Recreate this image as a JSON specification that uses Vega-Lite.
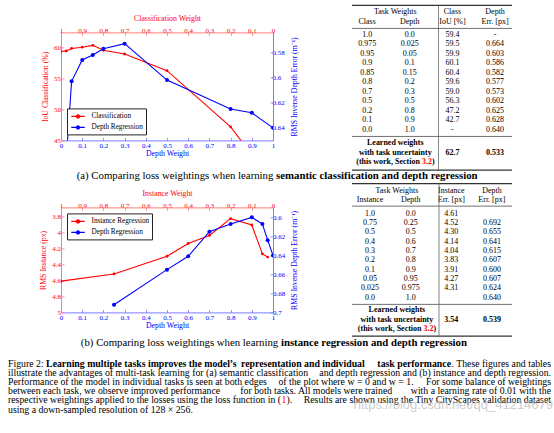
{
"$schema": "https://vega.github.io/schema/vega-lite/v6.json",
"background": "white",
"padding": {"left": 8, "top": 4.4, "right": 0, "bottom": 0},
"autosize": {"type": "pad"},
"config": {
  "font": "Liberation Serif",
  "view": {"stroke": null},
  "axis": {"grid": false, "labelFont": "Liberation Serif", "titleFont": "Liberation Serif", "labelFontSize": 7, "titleFontSize": 7.8, "titleFontWeight": "normal", "labelFlush": false, "labelOverlap": false, "tickSize": -3, "tickWidth": 0.8, "domainWidth": 1},
  "legend": {"labelFont": "Liberation Serif", "labelFontSize": 7.2, "labelColor": "black"},
  "text": {"font": "Liberation Serif"}
},
"columns": 2,
"spacing": {"row": 0, "column": 79},
"bounds": "flush",
"align": "each",
"resolve": {"scale": {"color": "independent"}, "legend": {"color": "independent"}},
"concat": [
 {
  "width": 212, "height": 108,
  "layer": [
   {
    "data": {"values": [
     {"depth_weight": 0, "iou": 59.4}, {"depth_weight": 0.025, "iou": 59.5}, {"depth_weight": 0.05, "iou": 59.9},
     {"depth_weight": 0.1, "iou": 60.1}, {"depth_weight": 0.15, "iou": 60.4}, {"depth_weight": 0.2, "iou": 59.6},
     {"depth_weight": 0.3, "iou": 59.0}, {"depth_weight": 0.5, "iou": 56.3}, {"depth_weight": 0.8, "iou": 47.2},
     {"depth_weight": 0.9, "iou": 42.7}]},
    "encoding": {
     "x": {"field": "depth_weight", "type": "quantitative", "scale": {"domain": [0, 1], "nice": false, "zero": false},
       "axis": {"orient": "bottom", "title": "Depth Weight", "values": [0, 0.1, 0.2, 0.3, 0.4, 0.5, 0.6, 0.7, 0.8, 0.9, 1], "format": "~g",
         "domainColor": "#7a7aff", "tickColor": "#7a7aff", "labelColor": "#0000ff", "titleColor": "#0000ff", "labelPadding": 4, "titlePadding": 1.5}},
     "y": {"field": "iou", "type": "quantitative", "scale": {"domain": [45, 62.5], "nice": false, "zero": false},
       "axis": {"orient": "left", "title": "IoU Classification (%)", "values": [45, 50, 55, 60],
         "domainColor": "#ff7a7a", "tickColor": "#ff7a7a", "labelColor": "#ff0000", "titleColor": "#ff0000", "labelPadding": 3.5, "titlePadding": 4}},
     "color": {"datum": "Classification", "type": "nominal",
       "scale": {"domain": ["Classification", "Depth Regression"], "range": ["#ff0000", "#0000ff"]},
       "legend": {"title": null, "orient": "bottom-left", "offset": 6, "fillColor": "white", "strokeColor": "#222222", "padding": 2.5, "cornerRadius": 0,
         "symbolType": "M-1.5,0L1.5,0M-0.35,0A0.35,0.35,0,1,0,0.35,0A0.35,0.35,0,1,0,-0.35,0Z", "symbolSize": 81, "symbolStrokeWidth": 1.1,
         "symbolOffset": 3, "labelOffset": 8, "rowPadding": 1, "labelFontSize": 7.2, "labelFont": "Liberation Serif",
         "encode": {"symbols": {"update": {"fill": {"signal": "datum.value === 'Classification' ? '#ff0000' : '#0000ff'"}, "stroke": {"signal": "datum.value === 'Classification' ? '#ff0000' : '#0000ff'"}, "opacity": {"value": 1}}}}}}
    },
    "layer": [
     {"mark": {"type": "line", "strokeWidth": 1.1, "clip": true}},
     {"mark": {"type": "point", "filled": true, "size": 8, "opacity": 1, "clip": true}}
    ]
   },
   {
    "data": {"values": [
     {"depth_weight": 0.025, "err": 0.664}, {"depth_weight": 0.05, "err": 0.603}, {"depth_weight": 0.1, "err": 0.586},
     {"depth_weight": 0.15, "err": 0.582}, {"depth_weight": 0.2, "err": 0.577}, {"depth_weight": 0.3, "err": 0.573},
     {"depth_weight": 0.5, "err": 0.602}, {"depth_weight": 0.8, "err": 0.625}, {"depth_weight": 0.9, "err": 0.628},
     {"depth_weight": 1.0, "err": 0.640}]},
    "encoding": {
     "x": {"field": "depth_weight", "type": "quantitative",
       "axis": {"orient": "top", "title": "Classification Weight", "values": [0, 0.1, 0.2, 0.3, 0.4, 0.5, 0.6, 0.7, 0.8, 0.9, 1],
         "labelExpr": "format(1 - datum.value, '~g')",
         "domainColor": "#ff7a7a", "tickColor": "#ff7a7a", "labelColor": "#ff0000", "titleColor": "#ff0000", "labelPadding": 1.5, "titlePadding": 4}},
     "y": {"field": "err", "type": "quantitative", "scale": {"domain": [0.564, 0.65], "reverse": true, "nice": false, "zero": false},
       "axis": {"orient": "right", "title": "RMS Inverse Depth Error (m⁻¹)", "values": [0.58, 0.6, 0.62, 0.64], "format": "~g",
         "domainColor": "#7a7aff", "tickColor": "#7a7aff", "labelColor": "#0000ff", "titleColor": "#0000ff", "labelPadding": 2, "titlePadding": 6,
         "titleAngle": 270, "titleBaseline": "top"}},
     "color": {"datum": "Depth Regression", "type": "nominal"}
    },
    "layer": [
     {"mark": {"type": "line", "strokeWidth": 1.1, "clip": true}},
     {"mark": {"type": "point", "filled": true, "size": 16, "opacity": 1, "clip": true}}
    ]
   }
  ],
  "resolve": {"scale": {"y": "independent"}, "axis": {"x": "independent", "y": "independent"}}
 },
 {
  "width": 160, "height": 108,
  "layer": [
   {
    "data": {"values": [
     {"line": -2.35, "col": 2, "text": "Class"}, {"line": -2.35, "col": 3, "text": "Depth"},
     {"line": -1.33, "col": 0, "text": "Class"}, {"line": -1.33, "col": 1, "text": "Depth"}, {"line": -1.33, "col": 2, "text": "IoU [%]"}, {"line": -1.33, "col": 3, "text": "Err. [px]"},
     {"line": 0, "col": 0, "text": "1.0"}, {"line": 0, "col": 1, "text": "0.0"}, {"line": 0, "col": 2, "text": "59.4"}, {"line": 0, "col": 3, "text": "-"},
     {"line": 1, "col": 0, "text": "0.975"}, {"line": 1, "col": 1, "text": "0.025"}, {"line": 1, "col": 2, "text": "59.5"}, {"line": 1, "col": 3, "text": "0.664"},
     {"line": 2, "col": 0, "text": "0.95"}, {"line": 2, "col": 1, "text": "0.05"}, {"line": 2, "col": 2, "text": "59.9"}, {"line": 2, "col": 3, "text": "0.603"},
     {"line": 3, "col": 0, "text": "0.9"}, {"line": 3, "col": 1, "text": "0.1"}, {"line": 3, "col": 2, "text": "60.1"}, {"line": 3, "col": 3, "text": "0.586"},
     {"line": 4, "col": 0, "text": "0.85"}, {"line": 4, "col": 1, "text": "0.15"}, {"line": 4, "col": 2, "text": "60.4"}, {"line": 4, "col": 3, "text": "0.582"},
     {"line": 5, "col": 0, "text": "0.8"}, {"line": 5, "col": 1, "text": "0.2"}, {"line": 5, "col": 2, "text": "59.6"}, {"line": 5, "col": 3, "text": "0.577"},
     {"line": 6, "col": 0, "text": "0.7"}, {"line": 6, "col": 1, "text": "0.3"}, {"line": 6, "col": 2, "text": "59.0"}, {"line": 6, "col": 3, "text": "0.573"},
     {"line": 7, "col": 0, "text": "0.5"}, {"line": 7, "col": 1, "text": "0.5"}, {"line": 7, "col": 2, "text": "56.3"}, {"line": 7, "col": 3, "text": "0.602"},
     {"line": 8, "col": 0, "text": "0.2"}, {"line": 8, "col": 1, "text": "0.8"}, {"line": 8, "col": 2, "text": "47.2"}, {"line": 8, "col": 3, "text": "0.625"},
     {"line": 9, "col": 0, "text": "0.1"}, {"line": 9, "col": 1, "text": "0.9"}, {"line": 9, "col": 2, "text": "42.7"}, {"line": 9, "col": 3, "text": "0.628"},
     {"line": 10, "col": 0, "text": "0.0"}, {"line": 10, "col": 1, "text": "1.0"}, {"line": 10, "col": 2, "text": "-"}, {"line": 10, "col": 3, "text": "0.640"}
    ]},
    "mark": {"type": "text", "fontSize": 8, "baseline": "middle", "align": "center"},
    "encoding": {
     "x": {"field": "col", "type": "quantitative", "scale": {"domain": [-0.355, 3.396], "nice": false, "zero": false}, "axis": null},
     "y": {"field": "line", "type": "quantitative", "scale": {"domain": [-0.242, 11.126], "nice": false, "zero": false, "reverse": true}, "axis": null},
     "text": {"field": "text", "type": "nominal"}
    }
   },
   {
    "data": {"values": [{"line": -2.35, "text": "Task Weights"}]},
    "mark": {"type": "text", "fontSize": 8, "baseline": "middle", "align": "center"},
    "encoding": {"x": {"datum": 0.66, "type": "quantitative", "axis": null}, "y": {"field": "line", "type": "quantitative", "axis": null}, "text": {"field": "text", "type": "nominal"}}
   },
   {
    "data": {"values": [{"line": 11.44, "text": "Learned weights"}, {"line": 12.46, "text": "with task uncertainty"}]},
    "mark": {"type": "text", "fontSize": 8, "fontWeight": "bold", "baseline": "middle", "align": "center"},
    "encoding": {"x": {"datum": 0.66, "type": "quantitative", "axis": null}, "y": {"field": "line", "type": "quantitative", "axis": null}, "text": {"field": "text", "type": "nominal"}}
   },
   {
    "data": {"values": [{"line": 13.44, "text": "(this work, Section"}]},
    "mark": {"type": "text", "fontSize": 8, "fontWeight": "bold", "baseline": "middle", "align": "right", "dx": 24.6},
    "encoding": {"x": {"datum": 0.66, "type": "quantitative", "axis": null}, "y": {"field": "line", "type": "quantitative", "axis": null}, "text": {"field": "text", "type": "nominal"}}
   },
   {
    "data": {"values": [{"line": 13.44, "text": "3.2"}]},
    "mark": {"type": "text", "fontSize": 8, "fontWeight": "bold", "baseline": "middle", "align": "left", "dx": 26.6, "color": "#ff0000"},
    "encoding": {"x": {"datum": 0.66, "type": "quantitative", "axis": null}, "y": {"field": "line", "type": "quantitative", "axis": null}, "text": {"field": "text", "type": "nominal"}}
   },
   {
    "data": {"values": [{"line": 13.44, "text": ")"}]},
    "mark": {"type": "text", "fontSize": 8, "fontWeight": "bold", "baseline": "middle", "align": "left", "dx": 36.6},
    "encoding": {"x": {"datum": 0.66, "type": "quantitative", "axis": null}, "y": {"field": "line", "type": "quantitative", "axis": null}, "text": {"field": "text", "type": "nominal"}}
   },
   {
    "data": {"values": [{"line": 12.46, "col": 2, "text": "62.7"}, {"line": 12.46, "col": 3, "text": "0.533"}]},
    "mark": {"type": "text", "fontSize": 8, "fontWeight": "bold", "baseline": "middle", "align": "center"},
    "encoding": {"x": {"field": "col", "type": "quantitative", "axis": null}, "y": {"field": "line", "type": "quantitative", "axis": null}, "text": {"field": "text", "type": "nominal"}}
   },
   {"data": {"values": [{}]}, "mark": {"type": "rule", "strokeWidth": 1.2, "color": "#333333"}, "encoding": {"y": {"datum": -3.08, "type": "quantitative", "axis": null}}},
   {"data": {"values": [{}]}, "mark": {"type": "rule", "strokeWidth": 0.7, "color": "#333333"}, "encoding": {"y": {"datum": -0.66, "type": "quantitative", "axis": null}}},
   {"data": {"values": [{}]}, "mark": {"type": "rule", "strokeWidth": 0.7, "color": "#333333"}, "encoding": {"y": {"datum": 10.71, "type": "quantitative", "axis": null}}},
   {"data": {"values": [{}]}, "mark": {"type": "rule", "strokeWidth": 1.2, "color": "#333333"}, "encoding": {"y": {"datum": 14.25, "type": "quantitative", "axis": null}}},
   {"data": {"values": [{}]}, "mark": {"type": "rule", "strokeWidth": 0.8, "color": "#666666"},
    "encoding": {"x": {"datum": 1.673, "type": "quantitative", "axis": null}, "y": {"datum": -3.08, "type": "quantitative", "axis": null}, "y2": {"datum": 14.25}}}
  ]
 },
 {
  "width": 212, "height": 67,
  "data": {"values": [{"part": "regular", "text": "(a) Comparing loss weightings when learning"}, {"part": "bold", "text": "semantic classification and depth regression"}]},
  "layer": [
   {"transform": [{"filter": "datum.part === 'regular'"}], "mark": {"type": "text", "align": "right", "baseline": "middle", "fontSize": 10.8, "dx": 106.4, "dy": 2.5}, "encoding": {"text": {"field": "text", "type": "nominal"}}},
   {"transform": [{"filter": "datum.part === 'bold'"}], "mark": {"type": "text", "align": "left", "baseline": "middle", "fontSize": 10.8, "fontWeight": "bold", "dx": 109.1, "dy": 2.5}, "encoding": {"text": {"field": "text", "type": "nominal"}}}
  ]
 },
 {
  "width": 160, "height": 67,
  "data": {"values": [{}]},
  "mark": {"type": "point", "opacity": 0}
 },
 {
  "width": 212, "height": 105,
  "layer": [
   {
    "data": {"values": [
     {"depth_weight": 0, "rms": 4.61}, {"depth_weight": 0.25, "rms": 4.52}, {"depth_weight": 0.5, "rms": 4.30},
     {"depth_weight": 0.6, "rms": 4.14}, {"depth_weight": 0.7, "rms": 4.04}, {"depth_weight": 0.8, "rms": 3.83},
     {"depth_weight": 0.9, "rms": 3.91}, {"depth_weight": 0.95, "rms": 4.27}, {"depth_weight": 0.975, "rms": 4.31}]},
    "encoding": {
     "x": {"field": "depth_weight", "type": "quantitative", "scale": {"domain": [0, 1], "nice": false, "zero": false},
       "axis": {"orient": "bottom", "title": "Depth Weight", "values": [0, 0.1, 0.2, 0.3, 0.4, 0.5, 0.6, 0.7, 0.8, 0.9, 1], "format": "~g",
         "domainColor": "#7a7aff", "tickColor": "#7a7aff", "labelColor": "#0000ff", "titleColor": "#0000ff", "labelPadding": 4, "titlePadding": 1.5}},
     "y": {"field": "rms", "type": "quantitative", "scale": {"domain": [3.69, 5], "reverse": true, "nice": false, "zero": false},
       "axis": {"orient": "left", "title": "RMS Instance (px)", "values": [3.8, 4, 4.2, 4.4, 4.6, 4.8, 5], "format": "~g",
         "domainColor": "#ff7a7a", "tickColor": "#ff7a7a", "labelColor": "#ff0000", "titleColor": "#ff0000", "labelPadding": 3.5, "titlePadding": 4}},
     "color": {"datum": "Instance Regression", "type": "nominal",
       "scale": {"domain": ["Instance Regression", "Depth Regression"], "range": ["#ff0000", "#0000ff"]},
       "legend": {"title": null, "orient": "top-left", "offset": 6, "fillColor": "white", "strokeColor": "#222222", "padding": 2.5, "cornerRadius": 0,
         "symbolType": "M-1.5,0L1.5,0M-0.35,0A0.35,0.35,0,1,0,0.35,0A0.35,0.35,0,1,0,-0.35,0Z", "symbolSize": 81, "symbolStrokeWidth": 1.1,
         "symbolOffset": 3, "labelOffset": 8, "rowPadding": 1, "labelFontSize": 7.2, "labelFont": "Liberation Serif",
         "encode": {"symbols": {"update": {"fill": {"signal": "datum.value === 'Instance Regression' ? '#ff0000' : '#0000ff'"}, "stroke": {"signal": "datum.value === 'Instance Regression' ? '#ff0000' : '#0000ff'"}, "opacity": {"value": 1}}}}}}
    },
    "layer": [
     {"mark": {"type": "line", "strokeWidth": 1.1, "clip": true}},
     {"mark": {"type": "point", "filled": true, "size": 8, "opacity": 1, "clip": true}}
    ]
   },
   {
    "data": {"values": [
     {"depth_weight": 0.25, "err": 0.692}, {"depth_weight": 0.5, "err": 0.655}, {"depth_weight": 0.6, "err": 0.641},
     {"depth_weight": 0.7, "err": 0.615}, {"depth_weight": 0.8, "err": 0.607}, {"depth_weight": 0.9, "err": 0.600},
     {"depth_weight": 0.95, "err": 0.607}, {"depth_weight": 0.975, "err": 0.624}, {"depth_weight": 1.0, "err": 0.640}]},
    "encoding": {
     "x": {"field": "depth_weight", "type": "quantitative",
       "axis": {"orient": "top", "title": "Instance Weight", "values": [0, 0.1, 0.2, 0.3, 0.4, 0.5, 0.6, 0.7, 0.8, 0.9, 1],
         "labelExpr": "format(1 - datum.value, '~g')",
         "domainColor": "#ff7a7a", "tickColor": "#ff7a7a", "labelColor": "#ff0000", "titleColor": "#ff0000", "labelPadding": 1.5, "titlePadding": 4}},
     "y": {"field": "err", "type": "quantitative", "scale": {"domain": [0.5895, 0.7], "reverse": true, "nice": false, "zero": false},
       "axis": {"orient": "right", "title": "RMS Inverse Depth Error (m⁻¹)", "values": [0.6, 0.62, 0.64, 0.66, 0.68, 0.7], "format": "~g",
         "domainColor": "#7a7aff", "tickColor": "#7a7aff", "labelColor": "#0000ff", "titleColor": "#0000ff", "labelPadding": 2.5, "titlePadding": 6,
         "titleAngle": 270, "titleBaseline": "top"}},
     "color": {"datum": "Depth Regression", "type": "nominal"}
    },
    "layer": [
     {"mark": {"type": "line", "strokeWidth": 1.1, "clip": true}},
     {"mark": {"type": "point", "filled": true, "size": 16, "opacity": 1, "clip": true}}
    ]
   }
  ],
  "resolve": {"scale": {"y": "independent"}, "axis": {"x": "independent", "y": "independent"}}
 },
 {
  "width": 160, "height": 105,
  "layer": [
   {
    "data": {"values": [
     {"line": -2.42, "col": 2, "text": "Instance"}, {"line": -2.42, "col": 3, "text": "Depth"},
     {"line": -1.5, "col": 0, "text": "Instance"}, {"line": -1.5, "col": 1, "text": "Depth"}, {"line": -1.5, "col": 2, "text": "Err. [px]"}, {"line": -1.5, "col": 3, "text": "Err. [px]"},
     {"line": 0, "col": 0, "text": "1.0"}, {"line": 0, "col": 1, "text": "0.0"}, {"line": 0, "col": 2, "text": "4.61"},
     {"line": 1, "col": 0, "text": "0.75"}, {"line": 1, "col": 1, "text": "0.25"}, {"line": 1, "col": 2, "text": "4.52"}, {"line": 1, "col": 3, "text": "0.692"},
     {"line": 2, "col": 0, "text": "0.5"}, {"line": 2, "col": 1, "text": "0.5"}, {"line": 2, "col": 2, "text": "4.30"}, {"line": 2, "col": 3, "text": "0.655"},
     {"line": 3, "col": 0, "text": "0.4"}, {"line": 3, "col": 1, "text": "0.6"}, {"line": 3, "col": 2, "text": "4.14"}, {"line": 3, "col": 3, "text": "0.641"},
     {"line": 4, "col": 0, "text": "0.3"}, {"line": 4, "col": 1, "text": "0.7"}, {"line": 4, "col": 2, "text": "4.04"}, {"line": 4, "col": 3, "text": "0.615"},
     {"line": 5, "col": 0, "text": "0.2"}, {"line": 5, "col": 1, "text": "0.8"}, {"line": 5, "col": 2, "text": "3.83"}, {"line": 5, "col": 3, "text": "0.607"},
     {"line": 6, "col": 0, "text": "0.1"}, {"line": 6, "col": 1, "text": "0.9"}, {"line": 6, "col": 2, "text": "3.91"}, {"line": 6, "col": 3, "text": "0.600"},
     {"line": 7, "col": 0, "text": "0.05"}, {"line": 7, "col": 1, "text": "0.95"}, {"line": 7, "col": 2, "text": "4.27"}, {"line": 7, "col": 3, "text": "0.607"},
     {"line": 8, "col": 0, "text": "0.025"}, {"line": 8, "col": 1, "text": "0.975"}, {"line": 8, "col": 2, "text": "4.31"}, {"line": 8, "col": 3, "text": "0.624"},
     {"line": 9, "col": 0, "text": "0.0"}, {"line": 9, "col": 1, "text": "1.0"}, {"line": 9, "col": 3, "text": "0.640"}
    ]},
    "mark": {"type": "text", "fontSize": 8, "baseline": "middle", "align": "center"},
    "encoding": {
     "x": {"field": "col", "type": "quantitative", "scale": {"domain": [-0.446, 3.495], "nice": false, "zero": false}, "axis": null},
     "y": {"field": "line", "type": "quantitative", "scale": {"domain": [-0.675, 10.579], "nice": false, "zero": false, "reverse": true}, "axis": null},
     "text": {"field": "text", "type": "nominal"}
    }
   },
   {
    "data": {"values": [{"line": -2.42, "text": "Task Weights"}]},
    "mark": {"type": "text", "fontSize": 8, "baseline": "middle", "align": "center"},
    "encoding": {"x": {"datum": 0.66, "type": "quantitative", "axis": null}, "y": {"field": "line", "type": "quantitative", "axis": null}, "text": {"field": "text", "type": "nominal"}}
   },
   {
    "data": {"values": [{"line": 10.36, "text": "Learned weights"}, {"line": 11.36, "text": "with task uncertainty"}]},
    "mark": {"type": "text", "fontSize": 8, "fontWeight": "bold", "baseline": "middle", "align": "center"},
    "encoding": {"x": {"datum": 0.66, "type": "quantitative", "axis": null}, "y": {"field": "line", "type": "quantitative", "axis": null}, "text": {"field": "text", "type": "nominal"}}
   },
   {
    "data": {"values": [{"line": 12.33, "text": "(this work, Section"}]},
    "mark": {"type": "text", "fontSize": 8, "fontWeight": "bold", "baseline": "middle", "align": "right", "dx": 24.6},
    "encoding": {"x": {"datum": 0.66, "type": "quantitative", "axis": null}, "y": {"field": "line", "type": "quantitative", "axis": null}, "text": {"field": "text", "type": "nominal"}}
   },
   {
    "data": {"values": [{"line": 12.33, "text": "3.2"}]},
    "mark": {"type": "text", "fontSize": 8, "fontWeight": "bold", "baseline": "middle", "align": "left", "dx": 26.6, "color": "#ff0000"},
    "encoding": {"x": {"datum": 0.66, "type": "quantitative", "axis": null}, "y": {"field": "line", "type": "quantitative", "axis": null}, "text": {"field": "text", "type": "nominal"}}
   },
   {
    "data": {"values": [{"line": 12.33, "text": ")"}]},
    "mark": {"type": "text", "fontSize": 8, "fontWeight": "bold", "baseline": "middle", "align": "left", "dx": 36.6},
    "encoding": {"x": {"datum": 0.66, "type": "quantitative", "axis": null}, "y": {"field": "line", "type": "quantitative", "axis": null}, "text": {"field": "text", "type": "nominal"}}
   },
   {
    "data": {"values": [{"line": 11.36, "col": 2, "text": "3.54"}, {"line": 11.36, "col": 3, "text": "0.539"}]},
    "mark": {"type": "text", "fontSize": 8, "fontWeight": "bold", "baseline": "middle", "align": "center"},
    "encoding": {"x": {"field": "col", "type": "quantitative", "axis": null}, "y": {"field": "line", "type": "quantitative", "axis": null}, "text": {"field": "text", "type": "nominal"}}
   },
   {"data": {"values": [{}]}, "mark": {"type": "rule", "strokeWidth": 1.2, "color": "#333333"}, "encoding": {"y": {"datum": -3.22, "type": "quantitative", "axis": null}}},
   {"data": {"values": [{}]}, "mark": {"type": "rule", "strokeWidth": 0.7, "color": "#333333"}, "encoding": {"y": {"datum": -0.81, "type": "quantitative", "axis": null}}},
   {"data": {"values": [{}]}, "mark": {"type": "rule", "strokeWidth": 0.7, "color": "#333333"}, "encoding": {"y": {"datum": 9.72, "type": "quantitative", "axis": null}}},
   {"data": {"values": [{}]}, "mark": {"type": "rule", "strokeWidth": 1.2, "color": "#333333"}, "encoding": {"y": {"datum": 13.12, "type": "quantitative", "axis": null}}},
   {"data": {"values": [{}]}, "mark": {"type": "rule", "strokeWidth": 0.8, "color": "#666666"},
    "encoding": {"x": {"datum": 1.697, "type": "quantitative", "axis": null}, "y": {"datum": -3.22, "type": "quantitative", "axis": null}, "y2": {"datum": 13.12}}}
  ]
 },
 {
  "width": 212, "height": 100,
  "encoding": {
   "y": {"field": "line", "type": "quantitative", "scale": {"domain": [-4.576, 6.294], "nice": false, "zero": false, "reverse": true}, "axis": null},
   "text": {"field": "text", "type": "nominal"}
  },
  "layer": [
   {
    "data": {"values": [{"line": -1.2, "text": "(b) Comparing loss weightings when learning"}]},
    "mark": {"type": "text", "align": "right", "baseline": "middle", "fontSize": 10.8, "dx": 111.2}
   },
   {
    "data": {"values": [{"line": -1.2, "text": "instance regression and depth regression"}]},
    "mark": {"type": "text", "align": "left", "baseline": "middle", "fontSize": 10.8, "fontWeight": "bold", "dx": 113.9}
   },
   {
    "data": {"values": [
     {"line": 1, "text": "Figure 2:"},
     {"line": 2, "text": "illustrate the advantages of multi-task learning for (a) semantic classification"},
     {"line": 3, "text": "Performance of the model in individual tasks is seen at both edges"},
     {"line": 4, "text": "between each task, we observe improved performance"},
     {"line": 5, "text": "respective weightings applied to the losses using the loss function in ("},
     {"line": 6, "text": "using a down-sampled resolution of 128 × 256."}
    ]},
    "mark": {"type": "text", "align": "left", "baseline": "middle", "fontSize": 9.8, "dx": -159}
   },
   {
    "data": {"values": [{"line": 5, "text": "1"}]},
    "mark": {"type": "text", "align": "left", "baseline": "middle", "fontSize": 9.8, "color": "#ff0000", "dx": 114.6}
   },
   {
    "data": {"values": [{"line": 5, "text": ")."}]},
    "mark": {"type": "text", "align": "left", "baseline": "middle", "fontSize": 9.8, "dx": 119.5}
   },
   {
    "data": {"values": [{"line": 1, "text": "Learning multiple tasks improves the model’s"}]},
    "mark": {"type": "text", "align": "left", "baseline": "middle", "fontSize": 9.8, "fontWeight": "bold", "dx": -120.9}
   },
   {
    "data": {"values": [{"line": 1, "text": "representation and individual"}]},
    "mark": {"type": "text", "align": "center", "baseline": "middle", "fontSize": 9.8, "fontWeight": "bold", "dx": 135.9}
   },
   {
    "data": {"values": [{"line": 1, "text": "task performance"}]},
    "mark": {"type": "text", "align": "right", "baseline": "middle", "fontSize": 9.8, "fontWeight": "bold", "dx": 284}
   },
   {
    "data": {"values": [{"line": 3, "text": "of the plot where w = 0 and w = 1."}]},
    "mark": {"type": "text", "align": "center", "baseline": "middle", "fontSize": 9.8, "dx": 179}
   },
   {
    "data": {"values": [{"line": 4, "text": "for both tasks.  All models were trained"}]},
    "mark": {"type": "text", "align": "center", "baseline": "middle", "fontSize": 9.8, "dx": 149.2}
   },
   {
    "data": {"values": [
     {"line": 1, "text": ". These figures and tables"},
     {"line": 2, "text": "and depth regression and (b) instance and depth regression."},
     {"line": 3, "text": "For some balance of weightings"},
     {"line": 4, "text": "with a learning rate of 0.01 with the"},
     {"line": 5, "text": "Results are shown using the Tiny CityScapes validation dataset"}
    ]},
    "mark": {"type": "text", "align": "right", "baseline": "middle", "fontSize": 9.8, "dx": 384}
   },
   {
    "data": {"values": [{"line": 5.53, "text": "https://blog.csdn.net/qq_41214679"}]},
    "mark": {"type": "text", "align": "right", "baseline": "middle", "fontSize": 13, "font": "Liberation Sans", "color": "#bdbdbd", "opacity": 0.75, "dx": 386}
   }
  ]
 }
]
}
